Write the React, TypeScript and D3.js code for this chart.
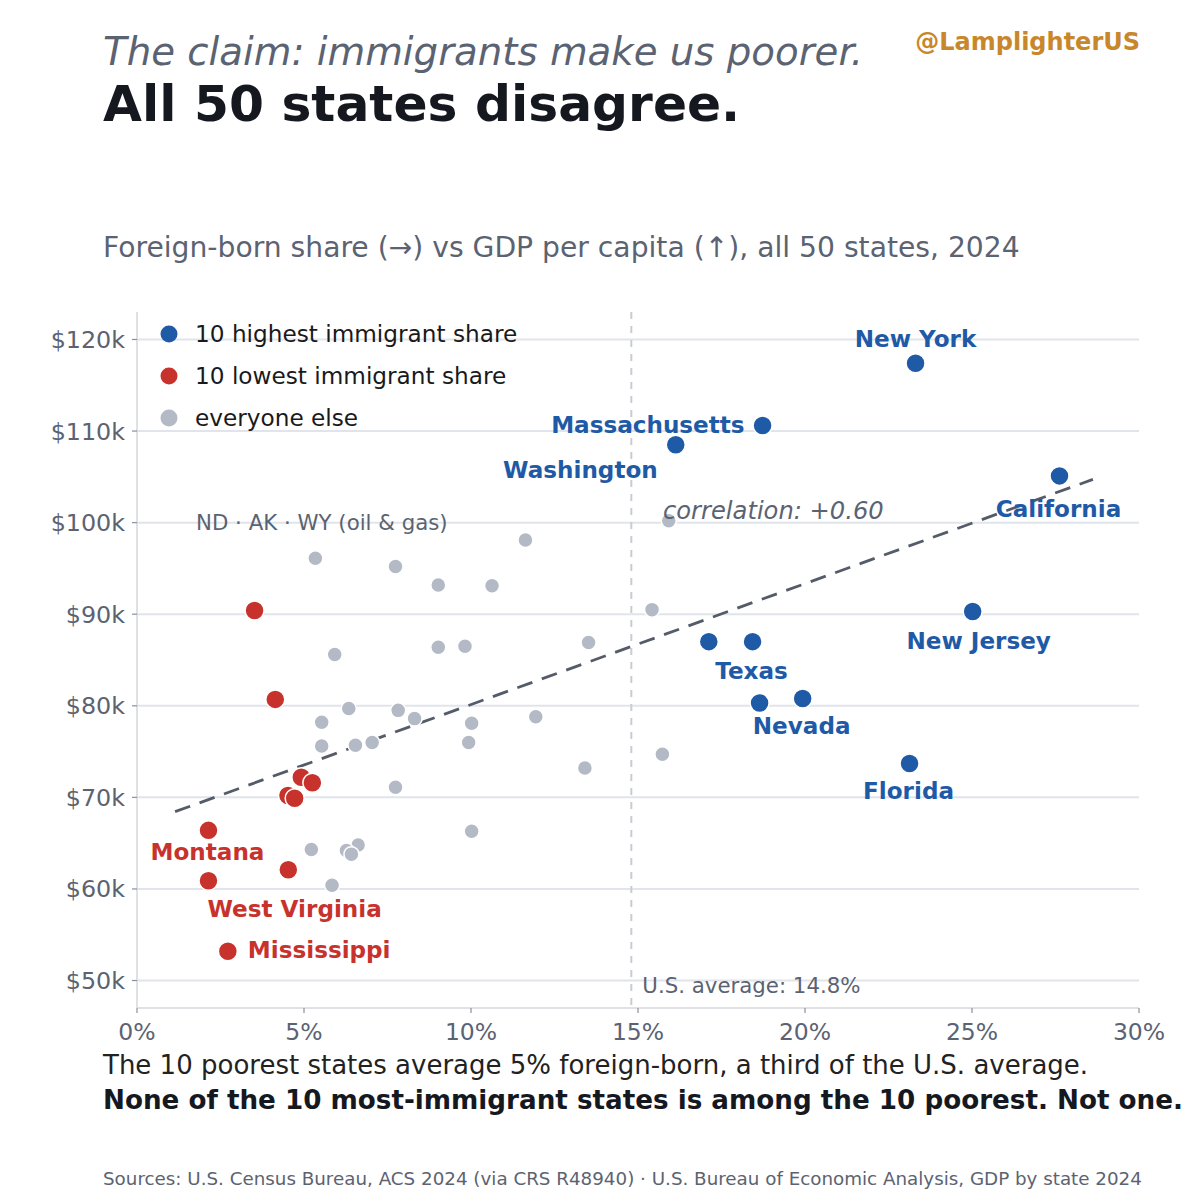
import React from 'react';
import * as d3 from 'd3';

// foreign-born share (%) and GDP per capita ($k)
const highNames = ['New York', 'Massachusetts', 'Washington', 'California', 'New Jersey', 'Texas', '', 'Nevada', '', 'Florida'];
const highShare = [23.31, 18.73, 16.13, 27.62, 25.02, 18.43, 17.12, 19.93, 18.64, 23.13];
const highGdp = [117.4, 110.6, 108.5, 105.1, 90.3, 87.0, 87.0, 80.8, 80.3, 73.7];

const lowNames = ['', '', '', '', '', '', 'Montana', '', 'West Virginia', 'Mississippi'];
const lowShare = [3.52, 4.14, 4.92, 5.25, 4.52, 4.72, 2.14, 4.53, 2.14, 2.72];
const lowGdp = [90.4, 80.7, 72.2, 71.6, 70.2, 69.9, 66.4, 62.1, 60.9, 53.2];

const otherShare = [5.34, 7.74, 9.02, 10.63, 11.63, 15.92, 15.42, 5.92, 9.02, 9.82, 13.52, 6.34, 7.82, 8.31, 10.02,
  11.94, 5.53, 5.53, 6.54, 7.04, 9.93, 13.41, 15.73, 7.74, 10.02, 5.22, 6.62, 6.27, 6.42, 5.84];
const otherGdp = [96.1, 95.2, 93.2, 93.1, 98.1, 100.2, 90.5, 85.6, 86.4, 86.5, 86.9, 79.7, 79.5, 78.6, 78.1,
  78.8, 78.2, 75.6, 75.7, 76.0, 76.0, 73.2, 74.7, 71.1, 66.3, 64.3, 64.8, 64.2, 63.8, 60.4];

const usAverage = 14.8;
const xTicks = [0, 5, 10, 15, 20, 25, 30];
const yTicks = [50, 60, 70, 80, 90, 100, 110, 120];
const legendLabels = ['10 highest immigrant share', '10 lowest immigrant share', 'everyone else'];

// label placement relative to each point (layout only)
const labelPos: Record<string, { dx: number; dy: number; anchor: string }> = {
  'New York': { dx: 0, dy: -16, anchor: 'middle' },
  Massachusetts: { dx: -18, dy: 7, anchor: 'end' },
  Washington: { dx: -18, dy: 33, anchor: 'end' },
  California: { dx: -1, dy: 41, anchor: 'middle' },
  'New Jersey': { dx: 6, dy: 38, anchor: 'middle' },
  Texas: { dx: -1, dy: 37, anchor: 'middle' },
  Nevada: { dx: -1, dy: 36, anchor: 'middle' },
  Florida: { dx: -1, dy: 36, anchor: 'middle' },
  Montana: { dx: -1, dy: 30, anchor: 'middle' },
  'West Virginia': { dx: -1, dy: 36, anchor: 'start' },
  Mississippi: { dx: 20, dy: 7, anchor: 'start' },
};

const BLUE = '#1f5aa6';
const RED = '#c8322d';
const GRAY = '#b3bac5';
const TEXT_GRAY = '#5b6372';
const FONT = "'DejaVu Sans', 'Noto Sans', sans-serif";

const App: React.FC = () => {
  const W = 1200;
  const H = 1200;
  const margin = { left: 137, right: 61, top: 312, bottom: 192 };

  const x = d3.scaleLinear().domain([0, 30]).range([margin.left, W - margin.right]);
  const y = d3.scaleLinear().domain([47, 123]).range([H - margin.bottom, margin.top]);

  const high = highShare.map((s, i) => ({ s, g: highGdp[i], name: highNames[i] }));
  const low = lowShare.map((s, i) => ({ s, g: lowGdp[i], name: lowNames[i] }));
  const other = otherShare.map((s, i) => ({ s, g: otherGdp[i] }));
  const all = [...high, ...low, ...other];

  // least-squares fit across all 50 states
  const mx = d3.mean(all, d => d.s) as number;
  const my = d3.mean(all, d => d.g) as number;
  const slope = d3.sum(all, d => (d.s - mx) * (d.g - my)) / d3.sum(all, d => (d.s - mx) ** 2);
  const intercept = my - slope * mx;
  const [xmin, xmax] = d3.extent(all, d => d.s) as [number, number];
  const fit = [xmin - 1, xmax + 1].map(v => [v, intercept + slope * v] as [number, number]);
  const fitLine = d3.line<[number, number]>().x(d => x(d[0])).y(d => y(d[1]));

  const plotTop = margin.top;
  const plotBottom = H - margin.bottom;

  return (
    <svg width={W} height={H} style={{ position: 'absolute', left: 0, top: 0, background: '#fff' }} fontFamily={FONT}>
      <rect width={W} height={H} fill="#fff" />

      {/* titles */}
      <text x={103} y={65} fontSize={38.7} fontStyle="italic" fill={TEXT_GRAY}>The claim: immigrants make us poorer.</text>
      <text x={103} y={121} fontSize={50.3} fontWeight="bold" fill="#15191f">All 50 states disagree.</text>
      <text x={1140} y={50} fontSize={24} fontWeight="bold" fill="#c8872a" textAnchor="end">@LamplighterUS</text>
      <text x={103} y={257} fontSize={28.2} fill={TEXT_GRAY}>Foreign-born share (→) vs GDP per capita (↑), all 50 states, 2024</text>

      {/* grid */}
      {yTicks.map(t => (
        <line key={t} x1={margin.left} x2={W - margin.right} y1={y(t)} y2={y(t)} stroke="#e1e4ea" strokeWidth={2} />
      ))}

      {/* spines & ticks */}
      <line x1={margin.left} x2={margin.left} y1={plotTop} y2={plotBottom} stroke="#d4d7dd" strokeWidth={1.5} />
      <line x1={margin.left} x2={W - margin.right} y1={plotBottom} y2={plotBottom} stroke="#d4d7dd" strokeWidth={1.5} />
      {yTicks.map(t => (
        <g key={t}>
          <line x1={margin.left - 5} x2={margin.left} y1={y(t)} y2={y(t)} stroke="#8a909b" strokeWidth={1.2} />
          <text x={margin.left - 12} y={y(t) + 8.5} fontSize={23.8} fill={TEXT_GRAY} textAnchor="end">${t}k</text>
        </g>
      ))}
      {xTicks.map(t => (
        <g key={t}>
          <line x1={x(t)} x2={x(t)} y1={plotBottom} y2={plotBottom + 5} stroke="#8a909b" strokeWidth={1.2} />
          <text x={x(t)} y={plotBottom + 32} fontSize={23.5} fill={TEXT_GRAY} textAnchor="middle">{t}%</text>
        </g>
      ))}

      {/* U.S. average */}
      <line x1={x(usAverage)} x2={x(usAverage)} y1={plotTop} y2={plotBottom} stroke="#c9cdd3" strokeWidth={2} strokeDasharray="7,7" />
      <text x={x(usAverage) + 11} y={plotBottom - 15} fontSize={21.3} fill={TEXT_GRAY}>U.S. average: 14.8%</text>

      {/* trend */}
      <path d={fitLine(fit) as string} fill="none" stroke="#555c69" strokeWidth={2.8} strokeDasharray="16,10" />

      {/* points */}
      {other.map((d, i) => (
        <circle key={'o' + i} cx={x(d.s)} cy={y(d.g)} r={7.5} fill={GRAY} stroke="#fff" strokeWidth={1.5} />
      ))}
      {low.map((d, i) => (
        <circle key={'l' + i} cx={x(d.s)} cy={y(d.g)} r={9.5} fill={RED} stroke="#fff" strokeWidth={1.5} />
      ))}
      {high.map((d, i) => (
        <circle key={'h' + i} cx={x(d.s)} cy={y(d.g)} r={9.5} fill={BLUE} stroke="#fff" strokeWidth={1.5} />
      ))}

      {/* annotations */}
      <text x={196} y={y(100) + 7.5} fontSize={21.3} fill={TEXT_GRAY}>ND · AK · WY (oil &amp; gas)</text>
      <text x={663} y={519} fontSize={24.2} fontStyle="italic" fill={TEXT_GRAY}>correlation: +0.60</text>

      {/* state labels */}
      {[...high.map(d => ({ ...d, c: BLUE })), ...low.map(d => ({ ...d, c: RED }))]
        .filter(d => d.name)
        .map(d => {
          const p = labelPos[d.name];
          return (
            <text key={d.name} x={x(d.s) + p.dx} y={y(d.g) + p.dy} fontSize={23.1} fontWeight="bold" fill={d.c} textAnchor={p.anchor}>
              {d.name}
            </text>
          );
        })}

      {/* legend */}
      {legendLabels.map((l, i) => (
        <g key={l} transform={`translate(169, ${334 + i * 42})`}>
          <circle r={8.5} fill={[BLUE, RED, GRAY][i]} />
          <text x={26} y={8} fontSize={23.2} fill="#1a1a1a">{l}</text>
        </g>
      ))}

      {/* takeaway */}
      <text x={103} y={1074} fontSize={26} fill="#222">The 10 poorest states average 5% foreign-born, a third of the U.S. average.</text>
      <text x={103} y={1109} fontSize={26.2} fontWeight="bold" fill="#15191f">None of the 10 most-immigrant states is among the 10 poorest. Not one.</text>
      <text x={103} y={1185} fontSize={18.3} fill={TEXT_GRAY}>Sources: U.S. Census Bureau, ACS 2024 (via CRS R48940) · U.S. Bureau of Economic Analysis, GDP by state 2024</text>
    </svg>
  );
};

export default App;
